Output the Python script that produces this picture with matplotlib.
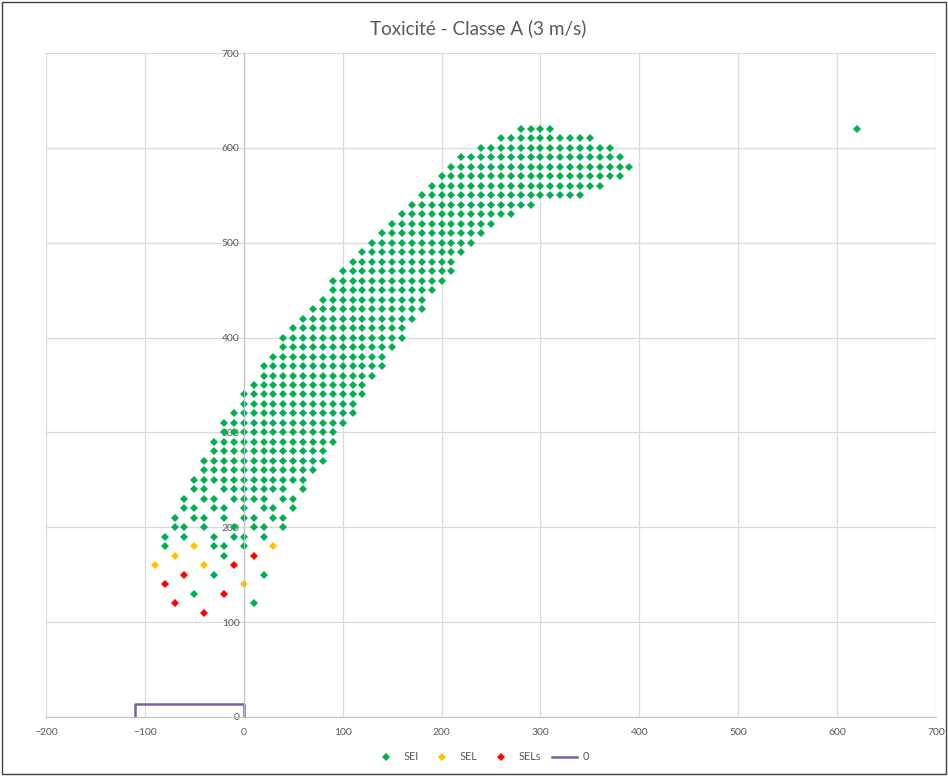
import matplotlib.pyplot as plt
from matplotlib.patches import Rectangle

plt.rcParams['font.family'] = ['Lato', 'DejaVu Sans']

step = 10

# SEI: rows that are one unbroken run of points, (y, first x, last x)
sei_rows = [
    (620, 280, 310), (610, 260, 350), (600, 240, 370), (590, 220, 380),
    (580, 210, 390), (570, 200, 380), (560, 190, 360), (550, 180, 340),
    (540, 170, 290), (530, 160, 270), (520, 150, 250), (510, 140, 240),
    (500, 130, 230), (490, 120, 220), (480, 110, 210), (470, 100, 210),
    (460, 90, 200), (450, 90, 190), (440, 80, 180), (430, 70, 180),
    (420, 60, 170), (410, 50, 160), (400, 40, 160), (390, 40, 150),
    (380, 30, 140), (370, 20, 140), (360, 20, 130), (350, 10, 120),
    (340, 0, 120), (330, 0, 110), (320, -10, 110), (310, -20, 100),
    (300, -20, 90), (290, -30, 90), (280, -30, 80), (270, -40, 80),
    (260, -40, 70), (250, -50, 60),
]
# SEI: rows with holes, listed point by point
sei_patchy = {
    240: [-50, -40, -20, -10, 0, 10, 20, 30, 40, 60],
    230: [-60, -40, -30, -10, 0, 10, 20, 40, 50],
    220: [-60, -50, -30, -20, 0, 20, 30, 50],
    210: [-70, -50, -40, -20, 0, 10, 30, 40],
    200: [-70, -60, -40, -10, 10, 20, 40],
    190: [-80, -60, -30, -10, 0, 20],
    180: [-80, -30, -20, 0],
    170: [-20],
    150: [-30, 20],
    130: [-50],
    120: [10],
}
sei_outlier_x = [620]
sei_outlier_y = [620]

sel_x = [-90, -70, -50, -40, 0, 30]
sel_y = [160, 170, 180, 160, 140, 180]

sels_x = [-80, -60, -70, -40, -10, -20, 10]
sels_y = [140, 150, 120, 110, 160, 130, 170]

zero_x = [-110, -110, 0, 0]
zero_y = [0, 14, 14, 0]

sei_x, sei_y = [], []
for y, x0, x1 in sei_rows:
    for x in range(x0, x1 + step, step):
        sei_x.append(x)
        sei_y.append(y)
for y, xs in sei_patchy.items():
    sei_x += xs
    sei_y += [y] * len(xs)
sei_x += sei_outlier_x
sei_y += sei_outlier_y

text_col = '#595959'
fig = plt.figure(figsize=(9.48, 7.76), dpi=100)
ax = fig.add_axes([46 / 948, 1 - 717 / 776, 890 / 948, 664 / 776])

ms = 3.6
ax.plot(sei_x, sei_y, 'D', color='#00B050', ms=ms, mew=0, label='SEI')
ax.plot(sel_x, sel_y, 'D', color='#FFC000', ms=ms, mew=0, label='SEL')
ax.plot(sels_x, sels_y, 'D', color='#FF0000', ms=ms, mew=0, label='SELs')
ax.plot(zero_x, zero_y, color='#7E60A0', lw=1.8, label='0')

ax.set_xlim(-200, 700)
ax.set_ylim(0, 700)
ax.set_xticks(range(-200, 701, 100))
ax.set_yticks(range(0, 701, 100))
ax.grid(True, color='#D9D9D9', lw=0.9)
ax.set_axisbelow(True)
for s in ['top', 'right']:
    ax.spines[s].set_visible(False)
ax.spines['left'].set_position(('data', 0))
ax.spines['left'].set_color('#BFBFBF')
ax.spines['bottom'].set_color('#BFBFBF')
ax.tick_params(length=0, labelsize=7.5, colors=text_col)
ax.tick_params(axis='x', pad=8)
ax.tick_params(axis='y', pad=3)

fig.text(478 / 948, 1 - 28 / 776, 'Toxicité - Classe A (3 m/s)',
         ha='center', va='center', fontsize=13.6, color=text_col)

fig.legend(loc='center', bbox_to_anchor=(481 / 948, 1 - 757 / 776), ncol=4,
           frameon=False, fontsize=7.8, labelcolor=text_col,
           handlelength=2.3, handletextpad=0.5, columnspacing=1.0)

fig.patches.append(Rectangle((0.002, 0.002), 0.996, 0.996, transform=fig.transFigure,
                             fill=False, edgecolor='#404040', lw=1.0))

fig.savefig('out.png', dpi=100)
